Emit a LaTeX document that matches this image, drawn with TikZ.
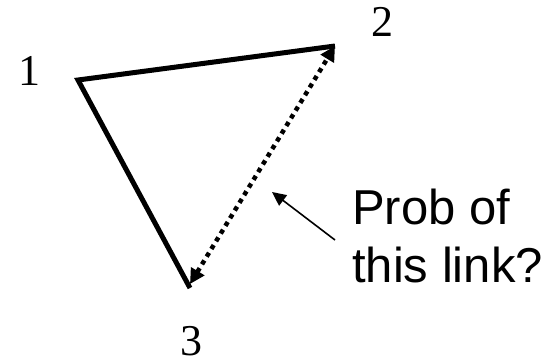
\documentclass[tikz,border=0pt]{standalone}
\usepackage{fontspec}
\setmainfont{Liberation Serif}
\setsansfont{Liberation Sans}
\usetikzlibrary{arrows.meta}
\begin{document}
\begin{tikzpicture}[x=1pt,y=-1pt,
  edge/.style={line width=5pt,line join=miter},
  linkq/.style={line width=4.5pt,dash pattern=on 4.5pt off 4.5pt,{Triangle[length=15pt,width=15pt]}-{Triangle[length=15pt,width=15pt]}},
  pointer/.style={line width=1.6pt,-{Triangle[length=14pt,width=13pt]}},
  numlbl/.style={font=\fontsize{44}{44}\selectfont\rmfamily,inner sep=0pt},
  qtext/.style={font=\fontsize{49}{58}\selectfont\sffamily,align=left,inner sep=0pt}]
\useasboundingbox (0,0) rectangle (554,361);
\coordinate (v1) at (78,80);
\coordinate (v2) at (335,46);
\coordinate (v3) at (190,288);
\coordinate (a2) at (335,46);
\coordinate (a3) at (190,284);
\coordinate (ptail) at (335,240);
\coordinate (phead) at (272,192);
\draw[edge] (v2) -- (v1) -- (v3);
\draw[linkq] (a3) -- (a2);
\draw[pointer] (ptail) -- (phead);
\node[numlbl] (l1) at (29,71) {1};
\node[numlbl] (l2) at (382,22) {2};
\node[numlbl] (l3) at (191,341) {3};
\node[qtext,anchor=north west] (q) at (352,189) {Prob of\\this link?};
\end{tikzpicture}
\end{document}
